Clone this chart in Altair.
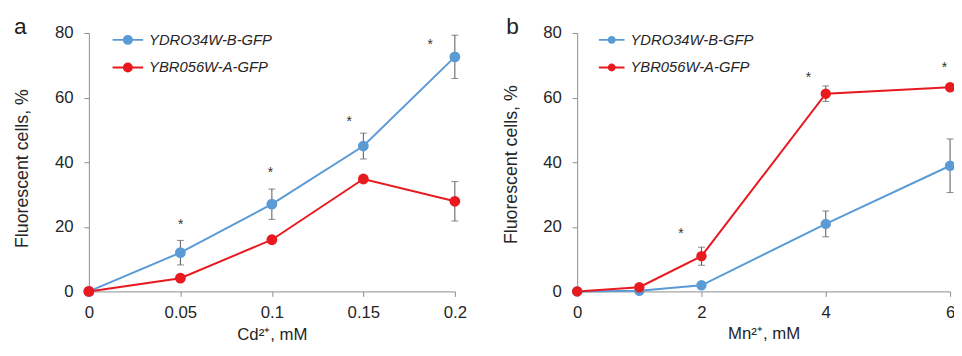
import altair as alt
import pandas as pd

FONT = "Liberation Sans"
TXT = "#262626"
AXC = "#8c8c8c"

series_names = ["YDRO34W-B-GFP", "YBR056W-A-GFP"]
series_colors = ["#5B9BD5", "#E8191F"]
y_ticks = [0, 20, 40, 60, 80]

# Panel a: Cd2+
cd_x = [0, 0.05, 0.1, 0.15, 0.2]
cd_blue = [0, 12.0, 27.0, 45.0, 72.6]
cd_blue_err = [0, 3.8, 4.7, 4.0, 6.7]
cd_red = [0, 4.1, 16.0, 34.8, 27.9]
cd_red_err = [0, 0, 0, 0, 6.1]
cd_star_x = [0.0501, 0.0992, 0.1423, 0.1865]
cd_star_y = [21.8, 37.9, 53.7, 77.6]
cd_ticks = [0, 0.05, 0.1, 0.15, 0.2]

# Panel b: Mn2+
mn_x = [0, 1, 2, 4, 6]
mn_blue = [0, 0.2, 1.9, 20.9, 38.9]
mn_blue_err = [0, 0, 0, 4.0, 8.3]
mn_red = [0, 1.3, 10.9, 61.2, 63.2]
mn_red_err = [0, 0, 2.8, 2.4, 0]
mn_star_x = [1.67, 3.72, 5.91]
mn_star_y = [19.1, 67.3, 70.3]
mn_ticks = [0, 2, 4, 6]


def ring_path(rs):
    p = "M-1,0L1,0"
    for r in rs:
        p += f"M{r},0A{r},{r},0,1,1,{-r},0A{r},{r},0,1,1,{r},0"
    return p


def panel(xs, blue, blue_err, red, red_err, sx, sy, ticks, xtitle, width,
          x_title_y, y_title_y, letter, letter_x, pt_size,
          leg_x, leg_y, leg_size, leg_rs, leg_rowpad):
    rows = []
    for name, vals, errs in [(series_names[0], blue, blue_err), (series_names[1], red, red_err)]:
        for xv, yv, ev in zip(xs, vals, errs):
            rows.append({"x": xv, "y": yv, "lo": yv - ev, "hi": yv + ev, "err": ev, "series": name})
    df = pd.DataFrame(rows)
    df_err = df[df["err"] > 0]
    stars = pd.DataFrame({"x": sx, "y": sy})

    xenc = alt.X("x:Q",
                 scale=alt.Scale(domain=[ticks[0], ticks[-1]], nice=False, zero=False),
                 axis=alt.Axis(values=ticks, format="~g", title=xtitle, labelPadding=8,
                               titleY=x_title_y, labelFlush=False, labelOverlap=False))
    yaxis = alt.Axis(values=y_ticks, title="Fluorescent cells, %", labelPadding=11,
                     titleX=-58, titleY=y_title_y, titleFontSize=18,
                     labelFlush=False, labelOverlap=False)
    yscale = alt.Scale(domain=[0, 80], nice=False)
    legend = alt.Legend(orient="none", legendX=leg_x, legendY=leg_y, title=None,
                        symbolType=ring_path(leg_rs), symbolSize=leg_size,
                        symbolStrokeWidth=2, symbolOpacity=1, padding=0,
                        labelFont=FONT, labelFontSize=15, labelFontStyle="italic",
                        labelColor=TXT, labelOffset=5, rowPadding=leg_rowpad)
    color = alt.Color("series:N", scale=alt.Scale(domain=series_names, range=series_colors),
                      legend=legend)

    err_rule = alt.Chart(df_err).mark_rule(color="#555555", strokeWidth=1).encode(
        x=xenc, y=alt.Y("lo:Q", scale=yscale, axis=yaxis), y2="hi:Q")
    cap_lo = alt.Chart(df_err).mark_tick(orient="horizontal", size=7, thickness=1,
                                         color="#555555").encode(
        x=xenc, y=alt.Y("lo:Q", scale=yscale, axis=yaxis))
    cap_hi = alt.Chart(df_err).mark_tick(orient="horizontal", size=7, thickness=1,
                                         color="#555555").encode(
        x=xenc, y=alt.Y("hi:Q", scale=yscale, axis=yaxis))
    lines = alt.Chart(df).mark_line(strokeWidth=2).encode(
        x=xenc, y=alt.Y("y:Q", scale=yscale, axis=yaxis), color=color, detail="series:N")
    points = alt.Chart(df).mark_circle(size=pt_size, opacity=1).encode(
        x=xenc, y=alt.Y("y:Q", scale=yscale, axis=yaxis), color=color)
    star = alt.Chart(stars).mark_text(text="*", fontSize=14, font=FONT, color="#333333",
                                      fill="#333333", baseline="alphabetic", dy=8).encode(
        x=xenc, y=alt.Y("y:Q", scale=yscale, axis=yaxis))
    letr = alt.Chart(pd.DataFrame({"t": [letter]})).mark_text(
        align="left", baseline="alphabetic", fontSize=23, font=FONT, color="#222222").encode(
        x=alt.value(letter_x), y=alt.value(1), text="t:N")
    return alt.layer(err_rule, cap_lo, cap_hi, lines, points, star, letr).properties(
        width=width, height=262)


pa = panel(cd_x, cd_blue, cd_blue_err, cd_red, cd_red_err, cd_star_x, cd_star_y,
           cd_ticks, "Cd²⁺, mM", 371, 36, 137, "a", -76, 120,
           23, -9.5, 961, [0.26, 0.16, 0.07], 3)
pb = panel(mn_x, mn_blue, mn_blue_err, mn_red, mn_red_err, mn_star_x, mn_star_y,
           mn_ticks, "Mn²⁺, mM", 378, 35, 133, "b", -72, 110,
           21, -7, 676, [0.23, 0.13, 0.04], 6)

chart = alt.hconcat(pa, pb, spacing=35).resolve_scale(color="independent").properties(
    padding={"left": 5, "top": 6, "right": -2, "bottom": 0}
).configure_view(stroke=None).configure_axis(
    grid=False, domainColor=AXC, tickColor=AXC, tickSize=5, domainWidth=1, tickWidth=1,
    labelFont=FONT, labelFontSize=17, labelColor=TXT,
    titleFont=FONT, titleFontSize=17, titleFontWeight="normal", titleColor=TXT,
)

chart.save("out.html", embed_options={"renderer": "svg", "actions": False})
